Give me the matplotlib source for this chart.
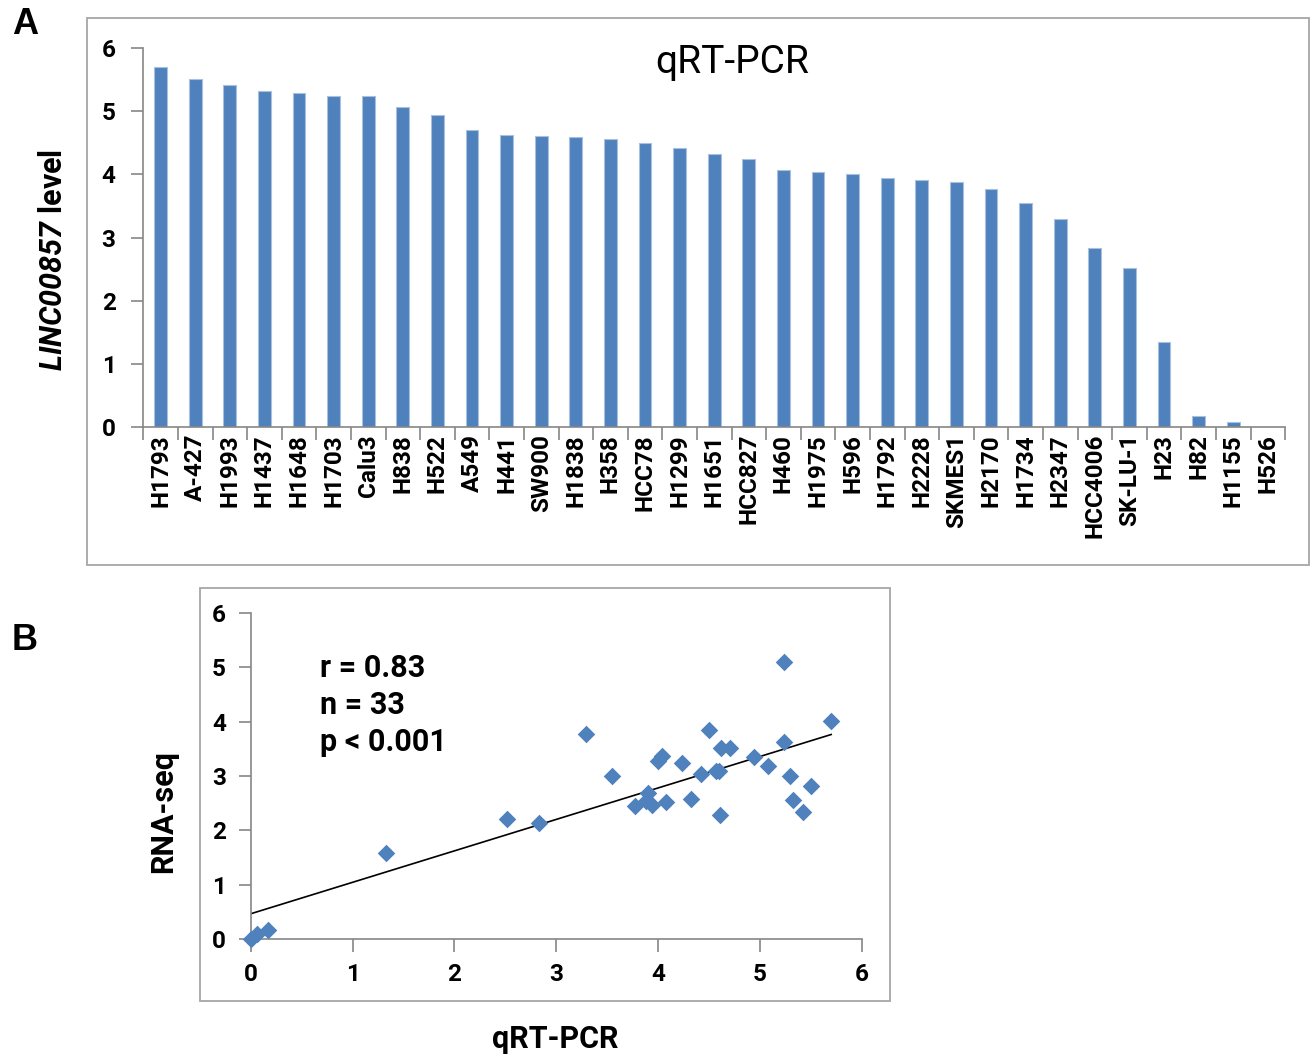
import numpy as np
import matplotlib
matplotlib.use("Agg")
import matplotlib.pyplot as plt
from matplotlib.patches import Rectangle

# Roboto has a real bold and is about as narrow as Calibri
plt.rcParams['font.family'] = ['Roboto', 'DejaVu Sans']
plt.rcParams['mathtext.fontset'] = 'custom'
# only the gene name is math text, so make all of it bold italic (digits too)
plt.rcParams['mathtext.it'] = 'Roboto:italic:bold'
plt.rcParams['mathtext.rm'] = 'Roboto:italic:bold'
plt.rcParams['mathtext.bf'] = 'Roboto:italic:bold'

# panel A data: qRT-PCR level per cell line
cell_lines = ['H1793', 'A-427', 'H1993', 'H1437', 'H1648', 'H1703', 'Calu3', 'H838',
              'H522', 'A549', 'H441', 'SW900', 'H1838', 'H358', 'HCC78', 'H1299',
              'H1651', 'HCC827', 'H460', 'H1975', 'H596', 'H1792', 'H2228', 'SKMES1',
              'H2170', 'H1734', 'H2347', 'HCC4006', 'SK-LU-1', 'H23', 'H82', 'H1155', 'H526']
qpcr_level = [5.70, 5.51, 5.42, 5.32, 5.29, 5.24, 5.24, 5.07,
              4.94, 4.71, 4.63, 4.61, 4.60, 4.56, 4.50, 4.42,
              4.33, 4.25, 4.07, 4.04, 4.01, 3.95, 3.92, 3.88,
              3.77, 3.55, 3.30, 2.83, 2.52, 1.34, 0.17, 0.08, 0.0]

# panel B data: qRT-PCR vs RNA-seq
scatter_qpcr = [0.00, 0.06, 0.17, 1.33, 2.52, 2.83, 3.29, 3.55, 3.77, 3.90, 3.88,
                3.94, 4.00, 4.04, 4.08, 4.24, 4.32, 4.42, 4.50, 4.57, 4.60, 4.61,
                4.62, 4.71, 4.94, 5.08, 5.24, 5.24, 5.30, 5.33, 5.42, 5.50, 5.70]
scatter_rnaseq = [0.00, 0.09, 0.17, 1.58, 2.21, 2.13, 3.77, 2.99, 2.44, 2.69, 2.53,
                  2.46, 3.28, 3.36, 2.52, 3.24, 2.58, 3.04, 3.84, 3.09, 3.09, 2.29,
                  3.51, 3.51, 3.35, 3.18, 5.10, 3.62, 2.99, 2.55, 2.34, 2.82, 4.01]
stats_lines = ['r = 0.83', 'n = 33', 'p < 0.001']

blue = '#4F81BD'
grey = '#868686'

fig = plt.figure(figsize=(13.12, 10.55), dpi=100)

# frames around the two panels
fig.add_artist(Rectangle((0.0663, 0.4645), 0.9314, 0.5185, transform=fig.transFigure,
                         fill=False, edgecolor='#A6A6A6', lw=1.3))
fig.add_artist(Rectangle((0.1524, 0.0512), 0.5259, 0.3915, transform=fig.transFigure,
                         fill=False, edgecolor='#A6A6A6', lw=1.3))

fig.text(0.019, 0.977, 'A', fontsize=26, fontweight='bold', family='Liberation Sans',
         ha='center', va='center')
fig.text(0.019, 0.393, 'B', fontsize=26, fontweight='bold', family='Liberation Sans',
         ha='center', va='center')

# ---- panel A: bar chart
ax = fig.add_axes([0.1093, 0.5953, 0.8702, 0.3590])
x = np.arange(len(cell_lines))
ax.bar(x, qpcr_level, width=0.37, color=blue, edgecolor='#A9C1DF', linewidth=0.8)
ax.set_xlim(-0.5, len(cell_lines) - 0.5)
ax.set_ylim(0, 6)
ax.set_yticks(range(0, 7))
ax.set_xticks(x)
ax.set_xticklabels(cell_lines, rotation=90, fontsize=17.5, fontweight='bold')
ax.set_xticks(np.arange(-0.5, len(cell_lines)), minor=True)
ax.tick_params(axis='x', which='major', length=0, pad=5)
ax.tick_params(axis='x', which='minor', length=9, color=grey, width=1.2, direction='out')
ax.tick_params(axis='y', length=9, color=grey, width=1.2, pad=11, labelsize=17.5)
for lab in ax.get_yticklabels():
    lab.set_fontweight('bold')
for s in ['top', 'right']:
    ax.spines[s].set_visible(False)
for s in ['left', 'bottom']:
    ax.spines[s].set_color(grey)
    ax.spines[s].set_linewidth(1.2)
ax.set_ylabel(r'$LINC00857$ level', fontsize=22, fontweight='bold')
ax.yaxis.set_label_coords(-0.066, 0.44)
ax.text(0.516, 0.962, 'qRT-PCR', transform=ax.transAxes, fontsize=28,
        ha='center', va='center')

# ---- panel B: scatter with linear trend
bx = fig.add_axes([0.1911, 0.110, 0.4657, 0.309])
bx.scatter(scatter_qpcr, scatter_rnaseq, marker='D', s=80, color=blue, zorder=3,
           linewidths=0, clip_on=False)
slope, intercept = np.polyfit(scatter_qpcr, scatter_rnaseq, 1)
xs = np.array([0, max(scatter_qpcr)])
bx.plot(xs, slope * xs + intercept, color='black', lw=1.2, zorder=2)
bx.set_xlim(0, 6)
bx.set_ylim(0, 6)
bx.set_xticks(range(0, 7))
bx.set_yticks(range(0, 7))
bx.tick_params(length=9, color=grey, width=1.2, labelsize=17.5)
bx.tick_params(axis='x', pad=8)
bx.tick_params(axis='y', pad=9)
for lab in bx.get_xticklabels() + bx.get_yticklabels():
    lab.set_fontweight('bold')
for s in ['top', 'right']:
    bx.spines[s].set_visible(False)
for s in ['left', 'bottom']:
    bx.spines[s].set_color(grey)
    bx.spines[s].set_linewidth(1.2)
bx.set_ylabel('RNA-seq', fontsize=22, fontweight='bold')
bx.yaxis.set_label_coords(-0.119, 0.39)
bx.set_xlabel('qRT-PCR', fontsize=22, fontweight='bold')
bx.xaxis.set_label_coords(0.498, -0.262)
for i, t in enumerate(stats_lines):
    bx.text(0.68, 4.99 - 0.68 * i, t, fontsize=22, fontweight='bold', ha='left', va='center')

fig.savefig('out.png', dpi=100)
